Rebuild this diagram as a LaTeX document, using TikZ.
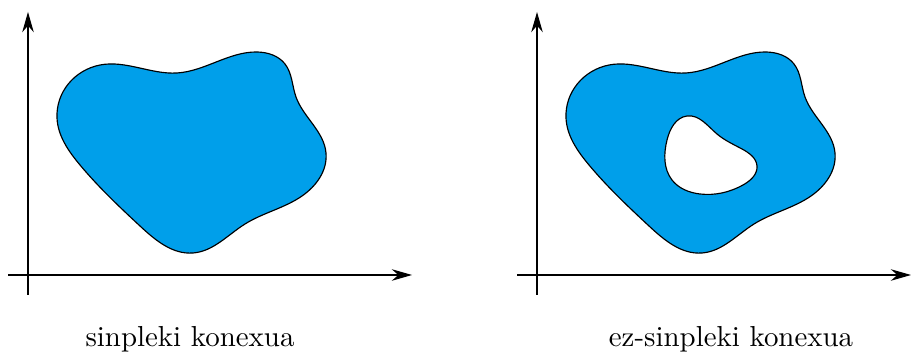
\documentclass[tikz,border=0pt]{standalone}
\usetikzlibrary{arrows.meta,hobby}
\definecolor{blobblue}{RGB}{0,159,234}
\begin{document}
\begin{tikzpicture}[x=0.346pt,y=-0.346pt,
  axis/.style={line width=0.4pt,-{Stealth[length=7pt,width=4pt]}},
  blob/.style={draw=black,line width=0.4pt,fill=blobblue},
  holestyle/.style={draw=black,line width=0.4pt,fill=white},
  lbl/.style={anchor=base,font=\fontsize{10}{12}\selectfont}]
\useasboundingbox (0,0) rectangle (911,356);
% left plot
\coordinate (la0) at (28,295);
\coordinate (la1) at (28,12);
\coordinate (lb0) at (8,275);
\coordinate (lb1) at (412,275);
\draw[axis] (la0) -- (la1);
\draw[axis] (lb0) -- (lb1);
\draw[blob] (57,118) to[closed,curve through={(100,65) (177,73) (257,52) (285,64) (296,97) (326,153) (302,196) (245,224) (193,253) (140,226) (80,165)}] (57,118);
\node[lbl] (l1) at (190,347) {sinpleki konexua};
% right plot
\coordinate (ra0) at (537,295);
\coordinate (ra1) at (537,12);
\coordinate (rb0) at (517,275);
\coordinate (rb1) at (911,275);
\draw[axis] (ra0) -- (ra1);
\draw[axis] (rb0) -- (rb1);
\begin{scope}[xshift=509*0.346pt]
\draw[blob] (57,118) to[closed,curve through={(100,65) (177,73) (257,52) (285,64) (296,97) (326,153) (302,196) (245,224) (193,253) (140,226) (80,165)}] (57,118);
\end{scope}
\draw[holestyle] (687,116) to[closed,curve through={(717,134) (742,149) (757,166) (743,185) (700,194) (672,180)}] (667,140);
\node[lbl] (l2) at (731,347) {ez-sinpleki konexua};
\end{tikzpicture}
\end{document}
